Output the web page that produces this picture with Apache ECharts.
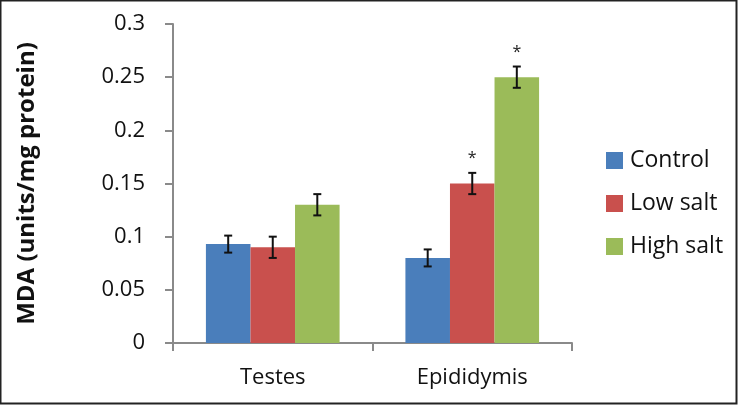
<!DOCTYPE html>
<html>
<head>
<meta charset="utf-8">
<script src="https://cdn.jsdelivr.net/npm/echarts@6/dist/echarts.min.js"></script>
<style>
  html, body { margin: 0; padding: 0; background: #fff; }
  #chart { width: 741px; height: 406px; }
</style>
</head>
<body>
<div id="chart"></div>
<script>
// data
var categories = ["Testes", "Epididymis"];
var seriesNames = ["Control", "Low salt", "High salt"];
var control = [0.093, 0.080];
var lowSalt = [0.090, 0.150];
var highSalt = [0.130, 0.250];
var controlErr = [0.008, 0.008];
var lowSaltErr = [0.010, 0.010];
var highSaltErr = [0.010, 0.010];
// significance marks per category
var lowSaltStar = ["", "*"];
var highSaltStar = ["", "*"];
var yTicks = [0, 0.05, 0.1, 0.15, 0.2, 0.25, 0.3];

var colors = ["#4a7ebb", "#c9504d", "#9bbb59"];
var values = [control, lowSalt, highSalt];
var errors = [controlErr, lowSaltErr, highSaltErr];
var stars = [["", ""], lowSaltStar, highSaltStar];
var font = "'Open Sans', 'Noto Sans', sans-serif";
var gapFrac = 0.33;

var chart = echarts.init(document.getElementById("chart"));

var series = [];
seriesNames.forEach(function (name, i) {
  series.push({
    name: name,
    type: "bar",
    data: values[i],
    itemStyle: { color: colors[i] },
    barGap: 0,
    barCategoryGap: "33%"
  });
});

// error bars + asterisks
seriesNames.forEach(function (name, i) {
  var d = categories.map(function (c, k) {
    return [k, values[i][k] - errors[i][k], values[i][k] + errors[i][k], stars[i][k]];
  });
  series.push({
    type: "custom",
    name: name + " err",
    data: d,
    z: 10,
    silent: true,
    renderItem: function (params, api) {
      var band = api.size([1, 0])[0];
      var bw = band * (1 - gapFrac) / 3;
      var lo = api.coord([api.value(0), api.value(1)]);
      var hi = api.coord([api.value(0), api.value(2)]);
      var x = lo[0] + (i - 1) * bw;
      var cap = 4;
      var st = { stroke: "#111", lineWidth: 2 };
      var kids = [
        { type: "line", shape: { x1: x, y1: lo[1], x2: x, y2: hi[1] }, style: st },
        { type: "line", shape: { x1: x - cap, y1: lo[1], x2: x + cap, y2: lo[1] }, style: st },
        { type: "line", shape: { x1: x - cap, y1: hi[1], x2: x + cap, y2: hi[1] }, style: st }
      ];
      var s = d[params.dataIndex][3];
      if (s) {
        kids.push({
          type: "text",
          style: { text: s, x: x, y: hi[1] - 14, align: "center", verticalAlign: "middle",
                   font: "16px " + font, fill: "#222" }
        });
      }
      return { type: "group", children: kids };
    }
  });
});

chart.setOption({
  animation: false,
  backgroundColor: "#fff",
  graphic: [{
    type: "rect",
    shape: { x: 0.5, y: 0.5, width: 736, height: 403 },
    style: { fill: "none", stroke: "#222", lineWidth: 2 },
    z: 100
  }],
  grid: { left: 173, right: 169, top: 24, bottom: 63 },
  legend: {
    data: seriesNames,
    orient: "vertical",
    left: 601,
    top: 144,
    itemWidth: 17,
    itemHeight: 17,
    itemGap: 20,
    icon: "rect",
    textStyle: { fontFamily: font, fontSize: 23, color: "#111", padding: [0, 0, 0, 2] }
  },
  xAxis: {
    type: "category",
    data: categories,
    axisLine: { lineStyle: { color: "#8a8a8a", width: 2 } },
    axisTick: { show: true, alignWithLabel: false, length: 8, lineStyle: { color: "#8a8a8a", width: 2 } },
    axisLabel: { fontFamily: font, fontSize: 22, color: "#111", margin: 24 }
  },
  yAxis: {
    type: "value",
    min: yTicks[0],
    max: yTicks[yTicks.length - 1],
    interval: 0.05,
    name: "MDA (units/mg protein)",
    nameLocation: "middle",
    nameGap: 134,
    nameTextStyle: { fontFamily: font, fontSize: 24, fontWeight: "bold", color: "#111" },
    axisLine: { show: true, lineStyle: { color: "#8a8a8a", width: 2 } },
    axisTick: { show: true, length: 8, lineStyle: { color: "#8a8a8a", width: 2 } },
    splitLine: { show: false },
    axisLabel: {
      fontFamily: font, fontSize: 22, color: "#111", margin: 28,
      formatter: function (v) { return String(+v.toFixed(2)); }
    }
  },
  series: series
});
</script>
</body>
</html>
